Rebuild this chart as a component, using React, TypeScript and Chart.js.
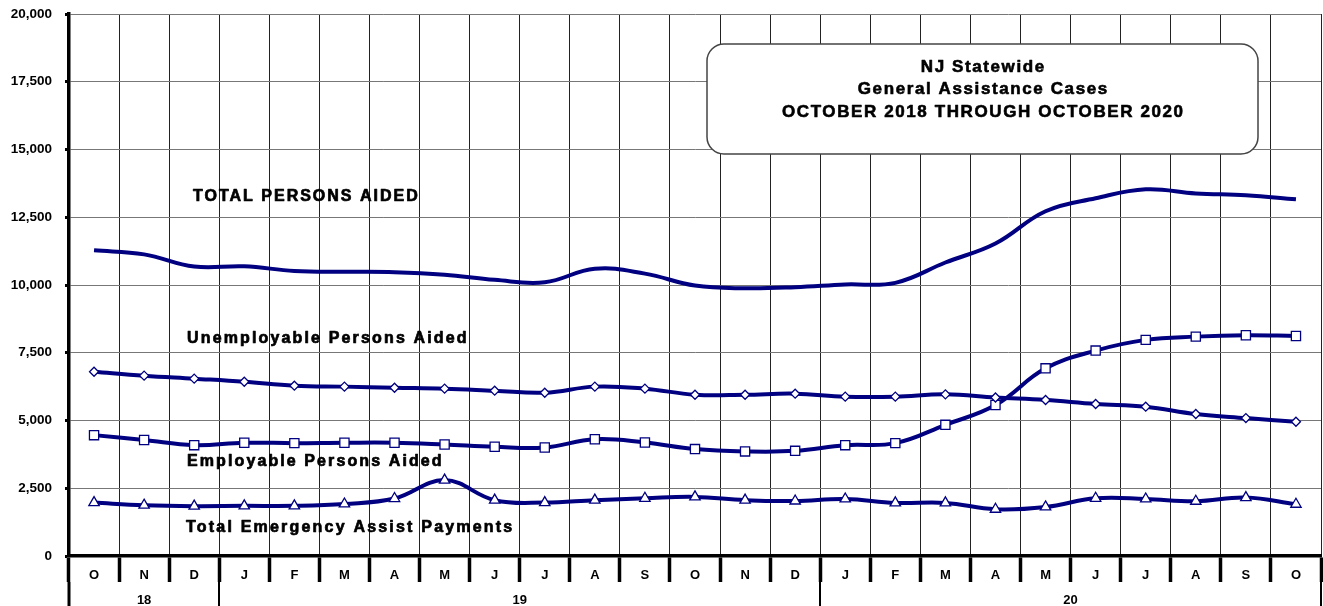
import React, { useEffect, useRef } from 'react';
import { Chart, registerables } from 'chart.js';

Chart.register(...registerables);

const monthLabels = ['O', 'N', 'D', 'J', 'F', 'M', 'A', 'M', 'J', 'J', 'A', 'S', 'O', 'N', 'D', 'J', 'F', 'M', 'A', 'M', 'J', 'J', 'A', 'S', 'O'];
const yearLabels = ['18', '19', '20'];
const yearFirstIndex = [0, 3, 15];
const yearLastIndex = [2, 14, 24];

const totalPersonsAided = [11280, 11130, 10680, 10690, 10520, 10490, 10475, 10380, 10190, 10100, 10600, 10420, 9980, 9880, 9920, 10020, 10080, 10830, 11530, 12720, 13200, 13530, 13380, 13310, 13160];
const unemployablePersonsAided = [6800, 6655, 6545, 6430, 6285, 6250, 6210, 6175, 6100, 6025, 6250, 6175, 5950, 5950, 5990, 5880, 5880, 5965, 5850, 5755, 5610, 5510, 5240, 5090, 4955];
const employablePersonsAided = [4460, 4280, 4090, 4180, 4165, 4180, 4180, 4115, 4030, 4005, 4310, 4190, 3945, 3860, 3880, 4090, 4165, 4840, 5570, 6925, 7580, 7975, 8095, 8145, 8120];
const totalEmergencyAssistPayments = [1970, 1875, 1840, 1850, 1850, 1920, 2120, 2800, 2060, 1970, 2060, 2130, 2180, 2060, 2030, 2105, 1960, 1960, 1725, 1810, 2130, 2105, 2020, 2155, 1910];

const yMin = 0;
const yMax = 20000;
const yStep = 2500;

const titleLines = ['NJ Statewide', 'General Assistance Cases', 'OCTOBER 2018 THROUGH OCTOBER 2020'];

const seriesNotes = [
  { text: 'TOTAL PERSONS AIDED', x: 193, y: 197, spacing: 2 },
  { text: 'Unemployable Persons Aided', x: 187, y: 339, spacing: 2.15 },
  { text: 'Employable Persons Aided', x: 187, y: 462, spacing: 2.1 },
  { text: 'Total Emergency Assist Payments', x: 186, y: 528, spacing: 2.2 },
];

const FONT = '"Liberation Sans", Arial, Helvetica, sans-serif';
const NAVY = '#000080';

function spacedText(ctx: CanvasRenderingContext2D, text: string, x: number, y: number, spacing: number, align: 'left' | 'center', stroke: number) {
  (ctx as any).letterSpacing = spacing + 'px';
  ctx.textAlign = 'left';
  const w = ctx.measureText(text).width - spacing;
  const sx = align === 'center' ? x - w / 2 : x;
  if (stroke > 0) {
    ctx.lineWidth = stroke;
    ctx.strokeStyle = '#000';
    ctx.lineJoin = 'round';
    ctx.strokeText(text, sx, y);
  }
  ctx.fillText(text, sx, y);
  (ctx as any).letterSpacing = '0px';
}

const overlayPlugin = {
  id: 'overlay',
  afterDraw(chart: any) {
    const ctx: CanvasRenderingContext2D = chart.ctx;
    const xs = chart.scales.x;
    const area = chart.chartArea;
    ctx.save();

    // month labels
    ctx.fillStyle = '#000';
    ctx.font = `bold 13px ${FONT}`;
    ctx.textAlign = 'center';
    ctx.textBaseline = 'middle';
    monthLabels.forEach((m, i) => {
      ctx.fillText(m, xs.getPixelForValue(i), area.bottom + 19);
    });

    // year row separators
    const rowTop = area.bottom + 26;
    const rowBottom = chart.height;
    ctx.strokeStyle = '#000';
    const bounds = [yearFirstIndex[0] - 0.5, ...yearLastIndex.map((v) => v + 0.5)];
    bounds.forEach((b, k) => {
      const px = Math.round(xs.getPixelForValue(b));
      ctx.lineWidth = k === 0 ? 3 : 2;
      ctx.beginPath();
      ctx.moveTo(px, rowTop);
      ctx.lineTo(px, rowBottom);
      ctx.stroke();
    });
    // year labels
    ctx.font = `bold 13px ${FONT}`;
    yearLabels.forEach((yl, k) => {
      const a = xs.getPixelForValue(yearFirstIndex[k] - 0.5);
      const b = xs.getPixelForValue(yearLastIndex[k] + 0.5);
      ctx.fillText(yl, (a + b) / 2, area.bottom + 44);
    });

    // title box
    const bx = 707, by = 44, bw = 551, bh = 110, r = 17;
    ctx.beginPath();
    ctx.moveTo(bx + r, by);
    ctx.lineTo(bx + bw - r, by);
    ctx.arcTo(bx + bw, by, bx + bw, by + r, r);
    ctx.lineTo(bx + bw, by + bh - r);
    ctx.arcTo(bx + bw, by + bh, bx + bw - r, by + bh, r);
    ctx.lineTo(bx + r, by + bh);
    ctx.arcTo(bx, by + bh, bx, by + bh - r, r);
    ctx.lineTo(bx, by + r);
    ctx.arcTo(bx, by, bx + r, by, r);
    ctx.closePath();
    ctx.fillStyle = '#fff';
    ctx.fill();
    ctx.strokeStyle = '#444';
    ctx.lineWidth = 1.5;
    ctx.stroke();

    ctx.fillStyle = '#000';
    ctx.textBaseline = 'middle';
    ctx.font = `bold 17px ${FONT}`;
    const cx = bx + bw / 2;
    titleLines.forEach((t, i) => {
      spacedText(ctx, t, cx, 67 + i * 22.5, 1.6, 'center', 0.6);
    });

    // series annotations
    ctx.font = `bold 16px ${FONT}`;
    seriesNotes.forEach((n) => {
      spacedText(ctx, n.text, n.x, n.y, n.spacing, 'left', 0.7);
    });

    ctx.restore();
  },
};

export default function App() {
  const canvasRef = useRef<HTMLCanvasElement | null>(null);

  useEffect(() => {
    if (!canvasRef.current) return;
    const lineBase = {
      borderColor: NAVY,
      borderWidth: 4,
      tension: 0.4,
      pointBackgroundColor: '#fff',
      pointBorderColor: NAVY,
      pointBorderWidth: 1.3,
      fill: false,
    };
    const chart = new Chart(canvasRef.current, {
      type: 'line',
      data: {
        labels: monthLabels,
        datasets: [
          { ...lineBase, label: 'Total Persons Aided', data: totalPersonsAided, pointRadius: 0 },
          { ...lineBase, label: 'Unemployable Persons Aided', data: unemployablePersonsAided, pointStyle: 'rectRot', pointRadius: 4.5 },
          { ...lineBase, label: 'Employable Persons Aided', data: employablePersonsAided, pointStyle: 'rect', pointRadius: 6.5 },
          { ...lineBase, label: 'Total Emergency Assist Payments', data: totalEmergencyAssistPayments, pointStyle: 'triangle', pointRadius: 6 },
        ],
      },
      options: {
        animation: false,
        responsive: false,
        layout: { autoPadding: false, padding: { top: 14, right: 2, left: 0, bottom: 0 } },
        plugins: {
          legend: { display: false },
          title: { display: false },
          tooltip: { enabled: false },
        },
        scales: {
          x: {
            type: 'category',
            offset: true,
            grid: {
              offset: true,
              color: '#222',
              lineWidth: 1,
              drawTicks: true,
              tickLength: 26,
              tickWidth: 3.5,
              tickColor: '#000',
            },
            border: { display: true, color: '#000', width: 3.5 },
            ticks: { display: false, autoSkip: false, maxRotation: 0 },
            afterFit: (scale: any) => {
              scale.height = 50;
              scale.paddingLeft = 0;
              scale.paddingRight = 0;
              scale.paddingTop = 0;
              scale.paddingBottom = 0;
            },
          },
          y: {
            min: yMin,
            max: yMax,
            grid: {
              color: '#777',
              lineWidth: 1,
              drawTicks: true,
              tickLength: 4,
              tickWidth: 3,
              tickColor: '#000',
            },
            border: { display: true, color: '#000', width: 3.5 },
            ticks: {
              stepSize: yStep,
              padding: 13,
              color: '#000',
              font: { family: FONT, weight: 'bold', size: 13.5 },
              callback: (v: any) => Number(v).toLocaleString('en-US'),
            },
            afterFit: (scale: any) => {
              scale.width = 69;
              scale.paddingTop = 0;
              scale.paddingBottom = 0;
              scale.paddingLeft = 0;
              scale.paddingRight = 0;
            },
          },
        },
      } as any,
      plugins: [overlayPlugin],
    });
    return () => chart.destroy();
  }, []);

  return (
    <div style={{ position: 'fixed', left: 0, top: 0, width: 1323, height: 606, background: '#fff' }}>
      <canvas ref={canvasRef} width={1323} height={606} style={{ display: 'block' }} />
    </div>
  );
}
